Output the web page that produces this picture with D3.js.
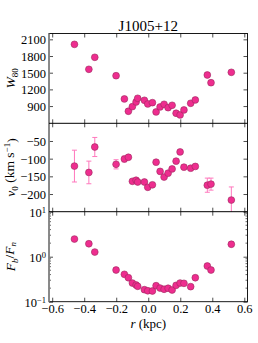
<!DOCTYPE html>
<html>
<head>
<meta charset="utf-8">
<script src="https://cdn.jsdelivr.net/npm/d3@7"></script>
<style>
  body { margin: 0; background: #fff; }
  text { font-family: "Liberation Serif", "DejaVu Serif", serif; fill: #000; }
</style>
</head>
<body>
<div id="container"></div>
<script>

// values
const radius = [-0.461, -0.371, -0.334, -0.201, -0.149, -0.124, -0.099, -0.076, -0.066, -0.024, -0.003,
    0.026, 0.049, 0.074, 0.099, 0.124, 0.149, 0.174, 0.199, 0.223, 0.265, 0.294, 0.369, 0.392, 0.519]
const w80 = [2010, 1561, 1777, 1446, 1028, 807, 890, 973, 1040, 1004, 938,
    961, 794, 884, 932, 871, 914, 771, 740, 830, 950, 1010, 1459, 1320, 1507]
const v0 = [-121, -139, -67, -116, -101, -96, -164, -161, -166, -166, -181,
    -174, -110, -136, -152, -141, -129, -107, -81, -124, -127, -122, -175, -172, -217]
const v0Err = [45, 32, 27, 13, 8, 5, 4, 4, 4, 4, 4,
    4, 4, 4, 4, 4, 4, 4, 4, 4, 4, 6, 20, 17, 37]
const fluxRatio = [2.47, 1.94, 1.27, 0.506, 0.406, 0.341, 0.26, 0.235, 0.22, 0.185, 0.175,
    0.173, 0.227, 0.201, 0.189, 0.199, 0.182, 0.231, 0.26, 0.256, 0.216, 0.341, 0.621, 0.506, 1.89]

const xTicks = [-0.6, -0.4, -0.2, 0.0, 0.2, 0.4, 0.6]
const w80Ticks = [900, 1200, 1500, 1800, 2100]
const v0Ticks = [-50, -100, -150, -200]
const ratioTicks = [0.1, 1, 10]
const ratioMinor = [0.2, 0.3, 0.4, 0.5, 0.6, 0.7, 0.8, 0.9, 2, 3, 4, 5, 6, 7, 8, 9]

const title = "J1005+12"

const frame = { left: 49, right: 247.5, top: 33.5, bottom: 301.7 }
const panelEdges = [33.5, 123.3, 211.7, 301.7]

const style = {
    marker: "#ee2d8f",
    markerEdge: "#9c2a5e",
    errBar: "#ff78bd",
    markerR: 3.4
}

const svg = d3.select("#container").append("svg")
    .attr("width", 258)
    .attr("height", 343)

const x = d3.scaleLinear().domain([-0.62, 0.62]).range([frame.left, frame.right])

const panels = [
    { y: d3.scaleLinear().domain([590, 2205]), values: w80, ticks: w80Ticks, fmt: d3.format("d") },
    { y: d3.scaleLinear().domain([-250, 0]), values: v0, ticks: v0Ticks, fmt: d3.format("d"), err: v0Err },
    { y: d3.scaleLog().domain([0.1, 10]), values: fluxRatio, ticks: ratioTicks, log: true }
]

panels.forEach((p, i) => {
    p.top = panelEdges[i]
    p.bottom = panelEdges[i + 1]
    p.y.range([p.bottom, p.top])
})

/********************* ticks ************************/

function drawTicks(p, i) {
    const g = svg.append("g").attr("class", "ticks")

    // left, labelled
    const left = g.append("g")
        .attr("transform", `translate(${frame.left},0)`)
        .call(d3.axisLeft(p.y).tickValues(p.ticks).tickSize(-4).tickPadding(3)
            .tickFormat(p.log ? () => "" : p.fmt))
    left.select(".domain").remove()
    left.selectAll("text").attr("font-size", 12.5).attr("dy", "0.36em")

    if (p.log) {
        left.selectAll(".tick text").each(function (d) {
            const t = d3.select(this)
            t.append("tspan").text("10")
            t.append("tspan").attr("dy", "-0.45em").attr("font-size", 8.5)
                .text(Math.round(Math.log10(d)).toString().replace("-", "−"))
        })
    }

    // right, no labels
    const right = g.append("g")
        .attr("transform", `translate(${frame.right},0)`)
        .call(d3.axisRight(p.y).tickValues(p.ticks).tickSize(-4).tickFormat(""))
    right.select(".domain").remove()

    if (p.log) {
        [frame.left, frame.right].forEach((px, k) => {
            g.selectAll(null).data(ratioMinor).enter().append("line")
                .attr("x1", px).attr("x2", px + (k === 0 ? 2 : -2))
                .attr("y1", d => p.y(d)).attr("y2", d => p.y(d))
                .attr("stroke", "#000").attr("stroke-width", 0.6)
        })
    }

    // top and bottom ticks
    const top = g.append("g")
        .attr("transform", `translate(0,${p.top})`)
        .call(d3.axisTop(x).tickValues(xTicks).tickSize(-4).tickFormat(""))
    top.select(".domain").remove()

    const bottom = g.append("g")
        .attr("transform", `translate(0,${p.bottom})`)
        .call(d3.axisBottom(x).tickValues(xTicks).tickSize(-4).tickPadding(2)
            .tickFormat(i === 2 ? d3.format(".1f") : ""))
    bottom.select(".domain").remove()
    bottom.selectAll("text").attr("font-size", 12.5)

    g.selectAll(".tick line").attr("stroke", "#000").attr("stroke-width", 0.7)
}

/********************* marks ************************/

function drawMarks(p, i) {
    const clipId = "clip" + i
    svg.append("clipPath").attr("id", clipId)
        .append("rect")
        .attr("x", frame.left).attr("y", p.top)
        .attr("width", frame.right - frame.left).attr("height", p.bottom - p.top)

    const g = svg.append("g").attr("clip-path", `url(#${clipId})`)

    if (p.err) {
        const bars = g.selectAll(".err").data(p.values).enter().append("g")
            .attr("stroke", style.errBar).attr("stroke-width", 1)
        bars.append("line")
            .attr("x1", (d, k) => x(radius[k])).attr("x2", (d, k) => x(radius[k]))
            .attr("y1", (d, k) => p.y(d + p.err[k])).attr("y2", (d, k) => p.y(d - p.err[k]))
        ;[1, -1].forEach(s => {
            bars.append("line")
                .attr("x1", (d, k) => x(radius[k]) - 2.5).attr("x2", (d, k) => x(radius[k]) + 2.5)
                .attr("y1", (d, k) => p.y(d + s * p.err[k])).attr("y2", (d, k) => p.y(d + s * p.err[k]))
        })
    }

    g.selectAll("circle").data(p.values).enter().append("circle")
        .attr("cx", (d, k) => x(radius[k]))
        .attr("cy", d => p.y(d))
        .attr("r", style.markerR)
        .attr("fill", style.marker)
        .attr("stroke", style.markerEdge)
        .attr("stroke-width", 0.6)
}

panels.forEach((p, i) => {
    drawMarks(p, i)
    drawTicks(p, i)
})

/********************* frame ************************/

svg.append("rect")
    .attr("x", frame.left).attr("y", frame.top)
    .attr("width", frame.right - frame.left).attr("height", frame.bottom - frame.top)
    .attr("fill", "none").attr("stroke", "#000").attr("stroke-width", 0.9)

svg.append("line")
    .attr("x1", frame.left).attr("x2", frame.left)
    .attr("y1", frame.top).attr("y2", frame.bottom)
    .attr("stroke", "#8a8a8a").attr("stroke-width", 1.8)

panelEdges.slice(1, 3).forEach(y => {
    svg.append("line")
        .attr("x1", frame.left).attr("x2", frame.right)
        .attr("y1", y).attr("y2", y)
        .attr("stroke", "#000").attr("stroke-width", 1)
})

/********************* labels ************************/

svg.append("text")
    .attr("x", (frame.left + frame.right) / 2).attr("y", 31)
    .attr("text-anchor", "middle").attr("font-size", 15)
    .text(title)

function yLabel(p) {
    return svg.append("text")
        .attr("transform", `translate(15,${(p.top + p.bottom) / 2}) rotate(-90)`)
        .attr("text-anchor", "middle").attr("font-size", 13.5)
}

const l1 = yLabel(panels[0])
l1.append("tspan").attr("font-style", "italic").text("W")
l1.append("tspan").attr("font-size", 9).attr("dy", "0.3em").text("80")

const l2 = yLabel(panels[1])
l2.append("tspan").attr("font-style", "italic").text("v")
l2.append("tspan").attr("font-size", 9).attr("dy", "0.3em").text("0")
l2.append("tspan").attr("dy", "-0.3em").text(" (km s")
l2.append("tspan").attr("font-size", 9).attr("dy", "-0.45em").text("−1")
l2.append("tspan").attr("dy", "0.45em").text(")")

const l3 = yLabel(panels[2])
l3.append("tspan").attr("font-style", "italic").text("F")
l3.append("tspan").attr("font-size", 9).attr("font-style", "italic").attr("dy", "0.3em").text("b")
l3.append("tspan").attr("dy", "-0.3em").text("/")
l3.append("tspan").attr("font-style", "italic").text("F")
l3.append("tspan").attr("font-size", 9).attr("font-style", "italic").attr("dy", "0.3em").text("n")

const xl = svg.append("text")
    .attr("x", (frame.left + frame.right) / 2).attr("y", 328)
    .attr("text-anchor", "middle").attr("font-size", 13)
xl.append("tspan").attr("font-style", "italic").text("r")
xl.append("tspan").text(" (kpc)")

</script>
</body>
</html>
